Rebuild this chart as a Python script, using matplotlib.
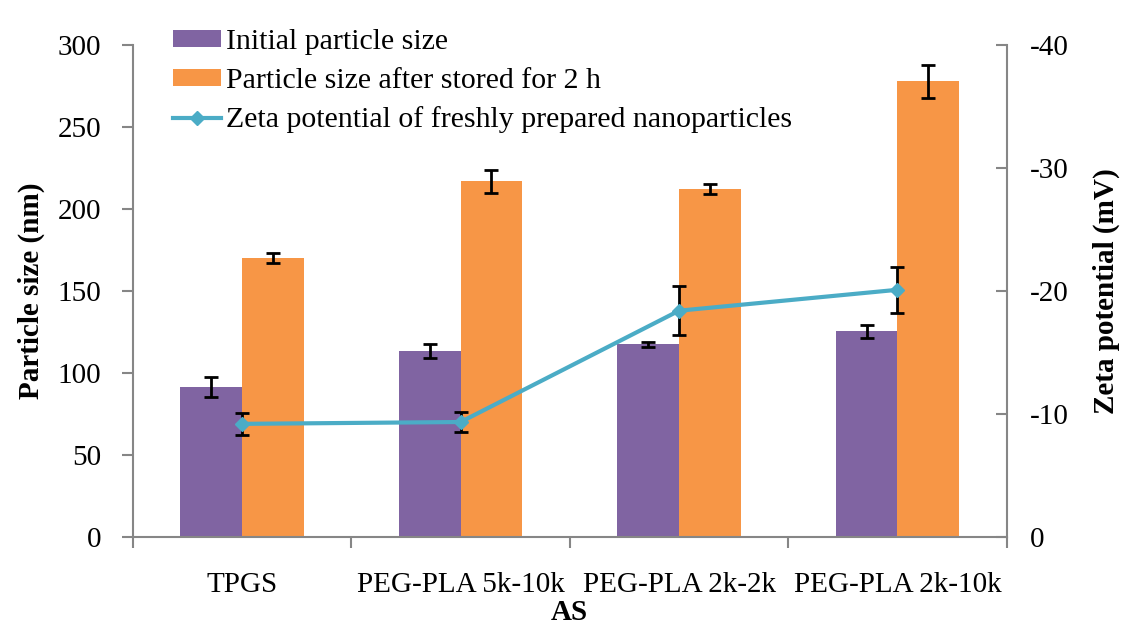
import numpy as np
import matplotlib.pyplot as plt

# particle size / zeta potential of nanoparticles with different AS

categories = ['TPGS', 'PEG-PLA 5k-10k', 'PEG-PLA 2k-2k', 'PEG-PLA 2k-10k']
initial_size = [91.5, 113.5, 117.5, 125.5]
initial_err = [6, 4.5, 1.5, 4]
stored_size = [170, 217, 212, 278]
stored_err = [3, 7, 3, 10]
zeta = [-9.2, -9.35, -18.4, -20.1]
zeta_err = [0.9, 0.8, 2.0, 1.85]
zeta_ticks = [0, -10, -20, -30, -40]

purple = '#8064A2'
orange = '#F79646'
teal = '#4BACC6'
gray = '#868686'

plt.rcParams['font.family'] = ['Liberation Serif', 'DejaVu Serif']
plt.rcParams['axes.unicode_minus'] = False

fig = plt.figure(figsize=(11.21, 6.35), dpi=100)
ax = fig.add_axes([0.1186, 0.1543, 0.7794, 0.7748])
ax2 = ax.twinx()

x = np.arange(len(categories))
w = 0.283
fs = 21

ax.bar(x - w / 2, initial_size, w, color=purple, label='Initial particle size', zorder=2)
ax.bar(x + w / 2, stored_size, w, color=orange, label='Particle size after stored for 2 h', zorder=2)
ax.errorbar(x - w / 2, initial_size, yerr=initial_err, fmt='none', ecolor='black',
            elinewidth=2, capsize=5, capthick=2, zorder=3)
ax.errorbar(x + w / 2, stored_size, yerr=stored_err, fmt='none', ecolor='black',
            elinewidth=2, capsize=5, capthick=2, zorder=3)

ax2.errorbar(x, zeta, yerr=zeta_err, fmt='none', ecolor='black',
             elinewidth=2, capsize=5, capthick=2, zorder=3)
ax2.plot(x, zeta, color=teal, lw=3, marker='D', ms=7, zorder=4,
         label='Zeta potential of freshly prepared nanoparticles')

ax.set_xlim(-0.5, len(categories) - 0.5)
ax.set_ylim(0, 300)
ax.set_yticks(np.arange(0, 301, 50))
ax2.set_ylim(0, -40)
ax2.set_yticks(zeta_ticks)
ax2.set_yticklabels([str(t) for t in zeta_ticks])

ax.set_xticks(x)
ax.set_xticklabels(categories, fontsize=fs)
ax.set_xticks(np.arange(-0.5, len(categories), 1), minor=True)
ax.tick_params(axis='x', which='major', length=0, pad=25)
ax.tick_params(axis='x', which='minor', length=8, width=1.5, color=gray)
ax.tick_params(axis='y', labelsize=fs, length=8, width=1.5, color=gray, pad=15)
ax2.tick_params(axis='y', labelsize=fs, length=8, width=1.5, color=gray,
                direction='in', pad=17)

for a in (ax, ax2):
    a.spines['top'].set_visible(False)
    for s in ('left', 'right', 'bottom'):
        a.spines[s].set_color(gray)
        a.spines[s].set_linewidth(1.5)
ax.spines['right'].set_visible(False)
ax2.spines['left'].set_visible(False)
ax2.spines['bottom'].set_visible(False)

ax.set_xlabel('AS', fontsize=fs, fontweight='bold', labelpad=1)
ax.set_ylabel('Particle size (nm)', fontsize=fs, fontweight='bold', labelpad=9)
ax2.set_ylabel('Zeta potential (mV)', fontsize=fs, fontweight='bold', labelpad=17)

h1, l1 = ax.get_legend_handles_labels()
h2, l2 = ax2.get_legend_handles_labels()
fig.legend(h1 + h2, l1 + l2, loc='upper left', bbox_to_anchor=(0.144, 0.973),
           frameon=False, fontsize=21.5, handlelength=1.6, handleheight=0.5,
           handletextpad=0.15, labelspacing=0.42, borderaxespad=0)

fig.savefig('out.png', dpi=100)
